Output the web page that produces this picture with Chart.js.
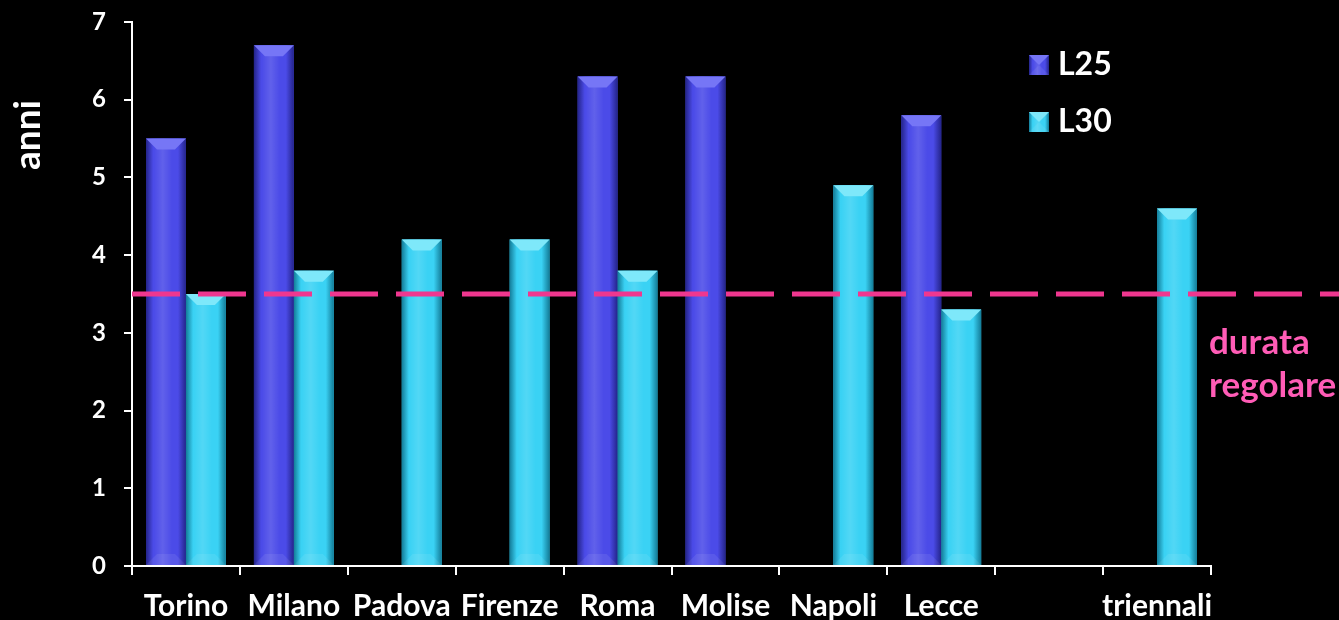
<!DOCTYPE html>
<html>
<head>
<meta charset="utf-8">
<script src="https://cdn.jsdelivr.net/npm/chart.js@4.4.1/dist/chart.umd.min.js"></script>
<style>
  html, body { margin: 0; padding: 0; background: #000; }
</style>
</head>
<body>
<canvas id="durataChart" width="1339" height="620"></canvas>
<script>
const sedi = ["Torino", "Milano", "Padova", "Firenze", "Roma", "Molise", "Napoli", "Lecce", "", "triennali"];
const l25 = [5.5, 6.7, null, null, 6.3, 6.3, null, 5.8, null, null];
const l30 = [3.5, 3.8, 4.2, 4.2, 3.8, null, 4.9, 3.3, null, 4.6];
const durataRegolare = 3.5;
const durataLabel = ["durata", "regolare"];
const yLabel = "anni";

const FONT = "Lato, 'Open Sans', sans-serif";

// colori: [corpo, bordo scuro, cappello chiaro]
const toni = {
  L25: ["#4b4be8", "#24248a", "#7676f6"],
  L30: ["#3ad2f4", "#137c98", "#7ee8fa"]
};

function disegnaBarra(ctx, left, top, w, bottom, t) {
  const h = bottom - top;
  ctx.save();
  let g = ctx.createLinearGradient(left, 0, left + w, 0);
  g.addColorStop(0, t[1]);
  g.addColorStop(0.18, t[0]);
  g.addColorStop(0.45, t[0]);
  g.addColorStop(0.8, t[0]);
  g.addColorStop(1, t[1]);
  ctx.fillStyle = g;
  ctx.fillRect(left, top, w, h);
  // riflesso centrale
  g = ctx.createLinearGradient(left, 0, left + w, 0);
  g.addColorStop(0.2, "rgba(255,255,255,0)");
  g.addColorStop(0.42, "rgba(255,255,255,0.12)");
  g.addColorStop(0.65, "rgba(255,255,255,0)");
  ctx.fillStyle = g;
  ctx.fillRect(left, top, w, h);
  // cappello superiore
  const c = Math.min(11, h / 2);
  ctx.beginPath();
  ctx.moveTo(left, top);
  ctx.lineTo(left + w, top);
  ctx.lineTo(left + w - c, top + c);
  ctx.lineTo(left + c, top + c);
  ctx.closePath();
  ctx.fillStyle = t[2];
  ctx.fill();
  // base leggermente più chiara
  ctx.beginPath();
  ctx.moveTo(left, bottom);
  ctx.lineTo(left + w, bottom);
  ctx.lineTo(left + w - c, bottom - c);
  ctx.lineTo(left + c, bottom - c);
  ctx.closePath();
  ctx.fillStyle = "rgba(255,255,255,0.08)";
  ctx.fill();
  ctx.restore();
}

const barre3d = {
  id: "barre3d",
  afterDatasetsDraw(chart) {
    const ctx = chart.ctx;
    chart.data.datasets.forEach((ds, i) => {
      const meta = chart.getDatasetMeta(i);
      meta.data.forEach((el, j) => {
        if (ds.data[j] == null) return;
        const p = el.getProps(["x", "y", "base", "width"], true);
        disegnaBarra(ctx, p.x - p.width / 2, p.y, p.width, p.base, toni[ds.label]);
      });
    });
  }
};

const extra = {
  id: "extra",
  afterDraw(chart) {
    const ctx = chart.ctx;
    const area = chart.chartArea;
    const yPos = chart.scales.y.getPixelForValue(durataRegolare);
    ctx.save();

    // linea tratteggiata della durata regolare
    ctx.strokeStyle = "#ef378f";
    ctx.lineWidth = 5;
    ctx.setLineDash([48, 18]);
    ctx.beginPath();
    ctx.moveTo(area.left, yPos);
    ctx.lineTo(chart.width, yPos);
    ctx.stroke();
    ctx.setLineDash([]);

    ctx.fillStyle = "#ff5cb6";
    ctx.font = "bold 35px " + FONT;
    ctx.textAlign = "left";
    ctx.textBaseline = "middle";
    ctx.fillText(durataLabel[0], 1209, yPos + 49);
    ctx.fillText(durataLabel[1], 1209, yPos + 92);

    // titolo asse y
    ctx.save();
    ctx.translate(28, 135);
    ctx.rotate(-Math.PI / 2);
    ctx.fillStyle = "#fff";
    ctx.font = "bold 37px " + FONT;
    ctx.textAlign = "center";
    ctx.textBaseline = "middle";
    ctx.fillText(yLabel, 0, 0);
    ctx.restore();

    // legenda
    chart.data.datasets.forEach((ds, i) => {
      const ly = 55 + i * 57;
      disegnaBarra(ctx, 1029, ly, 20, ly + 20, toni[ds.label]);
      ctx.fillStyle = "#fff";
      ctx.font = "bold 32px " + FONT;
      ctx.textAlign = "left";
      ctx.textBaseline = "middle";
      ctx.fillText(ds.label, 1058, ly + 10);
    });
    ctx.restore();
  }
};

new Chart(document.getElementById("durataChart"), {
  type: "bar",
  data: {
    labels: sedi,
    datasets: [
      { label: "L25", data: l25, backgroundColor: toni.L25[0] },
      { label: "L30", data: l30, backgroundColor: toni.L30[0] }
    ]
  },
  options: {
    responsive: false,
    animation: false,
    layout: { padding: { top: 22, right: 128, bottom: 0, left: 0 } },
    datasets: {
      bar: { barPercentage: 1, categoryPercentage: 0.74, borderWidth: 0 }
    },
    plugins: {
      legend: { display: false },
      tooltip: { enabled: false }
    },
    scales: {
      x: {
        afterFit(scale) { scale.height = 54; scale.paddingLeft = 0; scale.paddingRight = 0; },
        grid: { drawOnChartArea: false, color: "#fff", tickLength: 9, lineWidth: 2, offset: true },
        border: { color: "#fff", width: 2 },
        ticks: { color: "#fff", font: { family: FONT, size: 30, weight: "bold" }, padding: 13, maxRotation: 0, autoSkip: false }
      },
      y: {
        min: 0,
        max: 7,
        afterFit(scale) { scale.width = 132; scale.paddingTop = 0; scale.paddingBottom = 0; },
        grid: { drawOnChartArea: false, color: "#fff", tickLength: 8, lineWidth: 2 },
        border: { color: "#fff", width: 2 },
        ticks: { stepSize: 1, color: "#fff", font: { family: FONT, size: 24, weight: "bold" }, padding: 18 }
      }
    }
  },
  plugins: [barre3d, extra]
});
</script>
</body>
</html>
